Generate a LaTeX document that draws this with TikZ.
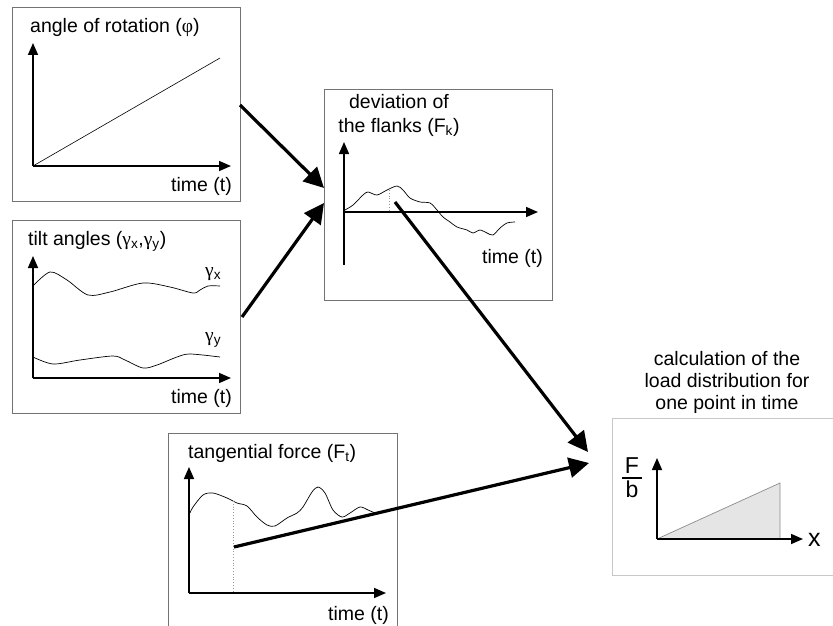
\documentclass[tikz,border=0pt]{standalone}
\usepackage{fontspec}
\setmainfont{Liberation Sans}
\newfontfamily\grk{Liberation Serif}
\usetikzlibrary{arrows.meta}

\tikzset{
  panel/.style={draw=black!55, line width=0.9pt},
  lightpanel/.style={draw=black!22, line width=0.9pt},
  axis/.style={line width=1.6pt, -{Triangle[length=12pt,width=10pt]}},
  signal/.style={line width=0.7pt, smooth},
  marker/.style={draw=black!40, line width=0.8pt, dotted},
  flow/.style={line width=3.2pt, -{Triangle[length=20pt,width=20pt]}},
  lbl/.style={inner sep=0pt, font=\fontsize{19.5}{22}\selectfont},
}

\begin{document}
\begin{tikzpicture}[x=1pt, y=-1pt]
\useasboundingbox (0,0) rectangle (833,626);

% ---- panel 1: angle of rotation ----
\node[panel, minimum width=228pt, minimum height=194pt, inner sep=0pt] (p1) at (126,104) {};
\node[lbl, anchor=base west] (t1) at (30,32.5) {angle of rotation ({\grk φ})};
\coordinate (o1) at (33,166);
\draw[axis] (o1) -- (33,43);
\draw[axis] (o1) -- (231,166);
\draw[line width=0.6pt] (o1) -- (220,58);
\node[lbl, anchor=base east] (x1) at (232,191) {time (t)};

% ---- panel 2: tilt angles ----
\node[panel, minimum width=228pt, minimum height=193pt, inner sep=0pt] (p2) at (126,316.5) {};
\node[lbl, anchor=base west] (t2) at (28,245) {tilt angles ({\grk γ}\textsubscript{x},{\grk γ}\textsubscript{y})};
\coordinate (o2) at (33,378);
\draw[axis] (o2) -- (33,256);
\draw[axis] (o2) -- (231,378);
\draw[signal] plot coordinates {(33,286) (50,272) (67,280) (88,295) (110,292) (143,283) (170,287) (193,293) (200,290) (208,286) (220,286)};
\draw[signal] plot coordinates {(33,357) (53,364) (80,360) (113,356) (125,360) (143,368) (157,365) (177,357) (190,354) (220,357)};
\node[lbl, anchor=base west] (gx) at (205,276) {{\grk γ}\textsubscript{x}};
\node[lbl, anchor=base west] (gy) at (205,341) {{\grk γ}\textsubscript{y}};
\node[lbl, anchor=base east] (x2) at (232,403) {time (t)};

% ---- panel 3: deviation of the flanks ----
\node[panel, minimum width=228pt, minimum height=211pt, inner sep=0pt] (p3) at (438,194.5) {};
\node[lbl, anchor=base, align=center] (t3a) at (399,108) {deviation of};
\node[lbl, anchor=base, align=center] (t3b) at (399,132) {the flanks (F\textsubscript{k})};
\coordinate (o3) at (344,212);
\draw[line width=1.6pt] (o3) -- (344,265);
\draw[axis] (o3) -- (344,142);
\draw[axis] (o3) -- (538,212);
\draw[signal] plot coordinates {(345,210) (353,205) (363,195) (368,192) (377,195) (387,190) (397,186) (403,190) (410,198) (420,202) (430,203) (437,210) (443,217) (450,222) (457,227) (467,230) (473,233) (480,230) (487,233) (493,235) (500,228) (507,223) (515,222)};
\coordinate (s3) at (389,190);
\draw[marker] (s3) -- (389,212);
\node[lbl, anchor=base east] (x3) at (543,263) {time (t)};

% ---- panel 4: tangential force ----
\draw[panel] (168,627) -- (168,433) -- (397,433) -- (397,627);
\node[lbl, anchor=base west] (t4) at (188,458) {tangential force (F\textsubscript{t})};
\coordinate (o4) at (189,593);
\draw[axis] (o4) -- (189,467);
\draw[axis] (o4) -- (386,593);
\draw[signal] plot coordinates {(190,513) (193,507) (203,495) (213,493) (227,498) (237,503) (247,506) (257,517) (267,525) (275,526) (287,518) (297,513) (303,507) (312,492) (318,487) (325,493) (333,510) (342,517) (350,513) (360,507) (368,510) (375,513)};
\coordinate (s4) at (233,501);
\draw[marker] (s4) -- (233,593);
\node[lbl, anchor=base east] (x4) at (389,620) {time (t)};

% ---- panel 5: load distribution ----
\node[lbl, anchor=base, align=center] (t5a) at (727,365) {calculation of the};
\node[lbl, anchor=base, align=center] (t5b) at (727,387) {load distribution for};
\node[lbl, anchor=base, align=center] (t5c) at (727,409) {one point in time};
\draw[lightpanel] (834,418) -- (612,418) -- (612,575) -- (834,575);
\coordinate (o5) at (657,539);
\fill[black!10] (o5) -- (780,483) -- (780,539) -- cycle;
\draw[black!45, line width=0.7pt] (o5) -- (780,483) -- (780,539);
\draw[axis] (o5) -- (657,458);
\draw[axis] (o5) -- (803,539);
\node[lbl, font=\fontsize{23}{25}\selectfont, anchor=base] (fF) at (632,473) {F};
\node[lbl, font=\fontsize{23}{25}\selectfont, anchor=base] (fb) at (632,497) {b};
\draw[line width=1.2pt] (622,478) -- (642,478);
\node[lbl, font=\fontsize{25}{27}\selectfont, anchor=west] (xl) at (808,540) {x};

% ---- data flow ----
\coordinate (a1s) at (240,105);
\coordinate (a1e) at (324,188);
\coordinate (a2s) at (242,317);
\coordinate (a2e) at (324,203);
\coordinate (a3e) at (588,452);
\coordinate (a4s) at (234,547);
\coordinate (a4e) at (589,463);
\draw[flow] (a1s) -- (a1e);
\draw[flow] (a2s) -- (a2e);
\draw[flow] (395,202) -- (a3e);
\draw[flow] (a4s) -- (a4e);
\end{tikzpicture}
\end{document}
